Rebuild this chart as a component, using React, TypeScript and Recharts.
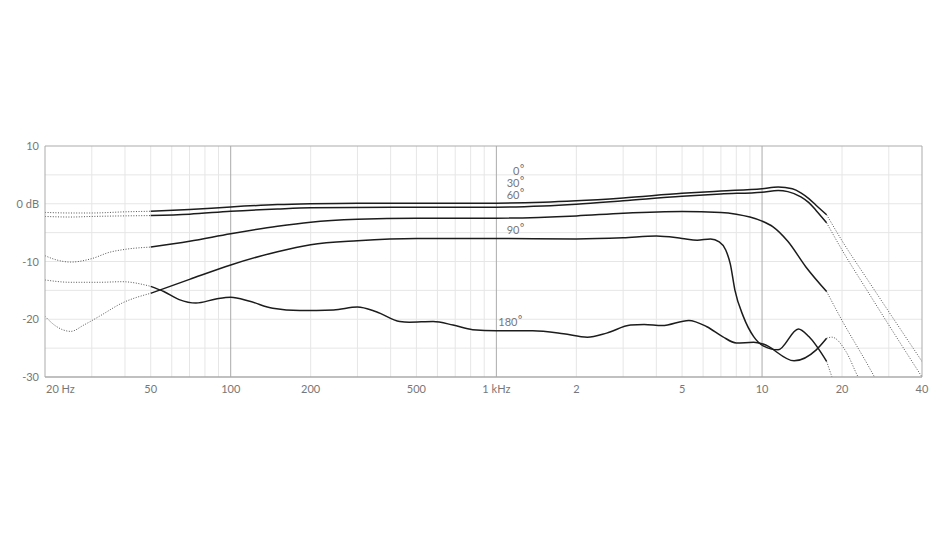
import React from 'react';
import { LineChart, Line, XAxis, YAxis, CartesianGrid, ReferenceDot } from 'recharts';

// frequency (Hz) / level (dB)
const freq0 = [20, 25, 30, 40, 50, 70, 100, 150, 200, 300, 500, 1000, 1500, 2000, 3000, 5000, 7000, 10000, 11500, 13000, 14000, 15000, 16000, 17500, 20000, 25000, 30000, 40000];
const db0 = [-1.5, -1.6, -1.6, -1.4, -1.3, -1.0, -0.55, -0.15, 0, 0.1, 0.1, 0.1, 0.25, 0.5, 1.0, 1.8, 2.2, 2.6, 2.9, 2.6, 1.9, 0.9, -0.3, -1.9, -6.4, -13.2, -18.7, -27.3];

const freq30 = [20, 25, 30, 40, 50, 70, 100, 150, 200, 500, 1000, 1500, 2000, 3000, 5000, 7000, 10000, 11500, 12500, 14000, 15000, 16000, 17500, 20000, 25000, 30000, 40000];
const db30 = [-2.2, -2.3, -2.2, -2.1, -2.05, -1.8, -1.3, -0.9, -0.7, -0.6, -0.6, -0.4, -0.1, 0.5, 1.3, 1.7, 2.0, 2.3, 2.1, 1.2, 0.2, -1.2, -3.3, -8.0, -15.2, -21.0, -30.0];

const freq60 = [20, 22, 25, 30, 35, 40, 50, 70, 100, 150, 200, 300, 500, 1000, 2000, 3000, 5000, 7000, 8000, 9000, 10000, 11000, 12500, 14600, 17500, 20000, 25000, 28000];
const db60 = [-9.0, -9.7, -10.1, -9.5, -8.4, -7.9, -7.5, -6.5, -5.2, -3.9, -3.2, -2.7, -2.5, -2.5, -2.1, -1.65, -1.35, -1.5, -1.8, -2.3, -3.0, -4.0, -6.5, -10.9, -15.2, -20.2, -27.9, -32.0];

const freq90 = [20, 22, 25, 28, 32, 39, 50, 70, 100, 150, 200, 300, 500, 1000, 2000, 3000, 4000, 5000, 5700, 6400, 6900, 7300, 7600, 7900, 8500, 9300, 10100, 11500, 13700, 15000, 17500, 18300, 19000];
const db90 = [-19.5, -21.2, -22.1, -21.0, -19.5, -17.2, -15.5, -13.1, -10.6, -8.3, -7.1, -6.4, -6.0, -6.0, -6.1, -5.9, -5.6, -6.0, -6.3, -6.1, -6.6, -8.0, -10.5, -14.9, -19.5, -23.0, -24.6, -25.3, -21.7, -23.0, -27.3, -29.9, -32.0];

const freq180 = [20, 25, 32, 39, 50, 56, 64, 74, 88, 100, 118, 144, 182, 244, 300, 353, 433, 470, 578, 687, 814, 1000, 1370, 1790, 2200, 2600, 3200, 3600, 4200, 5300, 6200, 7100, 8000, 9300, 10100, 13200, 16000, 17500, 18300, 20700, 23000, 24000];
const db180 = [-13.2, -13.6, -13.6, -13.5, -14.3, -15.2, -16.6, -17.2, -16.5, -16.2, -16.9, -18.1, -18.5, -18.4, -17.9, -18.7, -20.4, -20.5, -20.4, -21.0, -21.8, -22.0, -22.0, -22.5, -23.1, -22.4, -21.0, -20.9, -21.1, -20.2, -21.3, -23.0, -24.1, -24.0, -24.3, -27.2, -25.3, -23.3, -23.1, -25.6, -30.0, -31.5];

const seriesNames = ['0', '30', '60', '90', '180'];
// label anchors (Hz, dB) for the angle captions
const labelFreq = [1160, 1160, 1160, 1160, 1140];
const labelDb = [5.6, 3.6, 1.5, -4.6, -20.4];

const xTicks = [20, 50, 100, 200, 500, 1000, 2000, 5000, 10000, 20000, 40000];
const xTickLabels = ['20 Hz', '50', '100', '200', '500', '1 kHz', '2', '5', '10', '20', '40'];
const yTicks = [-30, -20, -10, 0, 10];
const yTickLabels = ['-30', '-20', '-10', '0 dB', '10'];

const minorFreqs = [30, 40, 50, 60, 70, 80, 90, 200, 300, 400, 500, 600, 700, 800, 900, 2000, 3000, 4000, 5000, 6000, 7000, 8000, 9000, 20000, 30000];
const majorFreqs = [100, 1000, 10000, 40000];
const minorDb = [5, 0, -5, -10, -15, -20, -25];
const borderDb = [10, -30];

const SOLID_FROM = 50;
const SOLID_TO = 17500;

const FONT = 'Lato, "Open Sans", sans-serif';
const TEXT = '#777777';

const build = (f: number[], d: number[]) => f.map((v, i) => ({ f: v, db: d[i] }));
const allSeries = [
  build(freq0, db0),
  build(freq30, db30),
  build(freq60, db60),
  build(freq90, db90),
  build(freq180, db180),
];

const XTick = (props: any) => {
  const { x, y, payload } = props;
  const idx = xTicks.indexOf(payload.value);
  const first = idx === 0;
  return (
    <text x={first ? x + 1 : x} y={y + 16} textAnchor={first ? 'start' : 'middle'} fontSize={11} fill={TEXT} fontFamily={FONT}>
      {xTickLabels[idx]}
    </text>
  );
};

const YTick = (props: any) => {
  const { x, y, payload } = props;
  const idx = yTicks.indexOf(payload.value);
  return (
    <text x={x - 6} y={y + 4} textAnchor="end" fontSize={11} fill={TEXT} fontFamily={FONT}>
      {yTickLabels[idx]}
    </text>
  );
};

const AngleLabel = (name: string) => (p: any) => (
  <g>
    <text x={p.cx + 6} y={p.cy + 4} textAnchor="end" fontSize={11} fill={TEXT} fontFamily={FONT}>
      {name}
    </text>
    <text x={p.cx + 6.5} y={p.cy + 1} textAnchor="start" fontSize={10} fill="#555" fontFamily={FONT}>
      °
    </text>
  </g>
);

export default function App() {
  return (
    <div style={{ position: 'absolute', left: 0, top: 0, width: 948, height: 535, background: '#fff' }}>
      <LineChart width={948} height={535} margin={{ top: 146, right: 26, bottom: 128, left: 0 }}>
        <CartesianGrid stroke="#e6e6e6" verticalValues={minorFreqs} horizontalValues={minorDb} />
        <CartesianGrid stroke="#ababab" verticalValues={majorFreqs} horizontalValues={borderDb} />
        <XAxis
          dataKey="f"
          type="number"
          scale="log"
          domain={[20, 40000]}
          allowDataOverflow
          ticks={xTicks}
          interval={0}
          tick={<XTick />}
          tickLine={false}
          tickSize={0}
          tickMargin={0}
          height={30}
          axisLine={{ stroke: '#ababab' }}
        />
        <YAxis
          type="number"
          domain={[-30, 10]}
          allowDataOverflow
          ticks={yTicks}
          interval={0}
          tick={<YTick />}
          tickLine={false}
          tickSize={0}
          tickMargin={0}
          width={45}
          axisLine={{ stroke: '#ababab' }}
        />
        {allSeries.map((s, i) => (
          <Line
            key={'lo' + i}
            data={s.filter((p) => p.f <= SOLID_FROM)}
            dataKey="db"
            type="monotone"
            stroke="#555"
            strokeWidth={1}
            strokeDasharray="1 1.6"
            dot={false}
            activeDot={false}
            isAnimationActive={false}
          />
        ))}
        {allSeries.map((s, i) => (
          <Line
            key={'hi' + i}
            data={s.filter((p) => p.f >= SOLID_TO)}
            dataKey="db"
            type="monotone"
            stroke="#555"
            strokeWidth={1}
            strokeDasharray="1 1.6"
            dot={false}
            activeDot={false}
            isAnimationActive={false}
          />
        ))}
        {allSeries.map((s, i) => (
          <Line
            key={'mid' + i}
            data={s.filter((p) => p.f >= SOLID_FROM && p.f <= SOLID_TO)}
            dataKey="db"
            type="monotone"
            stroke="#1c1c1c"
            strokeWidth={1.5}
            dot={false}
            activeDot={false}
            isAnimationActive={false}
          />
        ))}
        {seriesNames.map((n, i) => (
          <ReferenceDot key={n} x={labelFreq[i]} y={labelDb[i]} r={0} shape={AngleLabel(n)} />
        ))}
      </LineChart>
    </div>
  );
}
